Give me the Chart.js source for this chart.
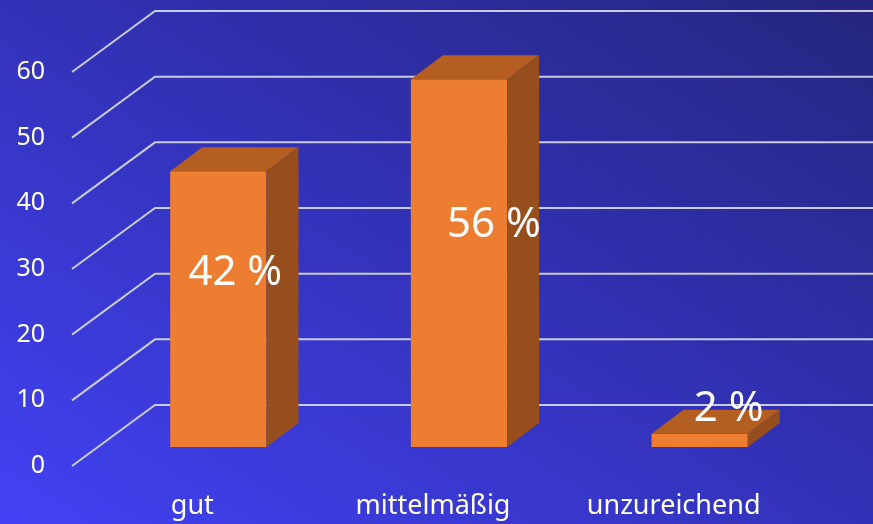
<!DOCTYPE html>
<html>
<head>
<meta charset="utf-8">
<script src="https://cdn.jsdelivr.net/npm/chart.js"></script>
<style>
  html, body { margin: 0; padding: 0; }
  body { width: 873px; height: 524px; overflow: hidden;
         background: linear-gradient(to top right, #4242f5 0%, #3232b8 50%, #25257e 100%); }
</style>
</head>
<body>
<canvas id="chart" width="873" height="524"></canvas>
<script>
// data
const categories = ['gut', 'mittelmäßig', 'unzureichend'];
const percentValues = [42, 56, 2];
const valueLabels = ['42 %', '56 %', '2 %'];
const yTicks = [0, 10, 20, 30, 40, 50, 60];

// horizontal nudge of each value label from the bar centre (px)
const labelDx = [17, 35, 29];

const FONT = "'Noto Sans', 'Open Sans', sans-serif";
const FLOOR = { dx: 83, dy: -61 };     // front edge -> back wall
const BAR_SHIFT = { dx: 26, dy: -19 }; // bars stand a bit into the floor
const BAR_DEPTH = { dx: 32, dy: -24 };

const threeD = {
  id: 'threeD',
  beforeDatasetsDraw(chart) {
    const { ctx, chartArea, scales: { y } } = chart;
    ctx.save();
    ctx.strokeStyle = 'rgba(210,210,228,0.95)';
    ctx.lineWidth = 2;
    yTicks.forEach(v => {
      const py = y.getPixelForValue(v);
      ctx.beginPath();
      ctx.moveTo(chartArea.left, py);
      ctx.lineTo(chartArea.left + FLOOR.dx, py + FLOOR.dy);
      ctx.lineTo(chart.width, py + FLOOR.dy);
      ctx.stroke();
    });
    ctx.restore();
    // front faces get drawn by chart.js, shifted into the floor
    ctx.save();
    ctx.translate(BAR_SHIFT.dx, BAR_SHIFT.dy);
  },
  afterDatasetsDraw(chart) {
    const ctx = chart.ctx;
    const bars = chart.getDatasetMeta(0).data;
    bars.forEach(bar => {
      const { x, y, base, width } = bar.getProps(['x', 'y', 'base', 'width'], true);
      const l = x - width / 2, r = x + width / 2;
      // top
      ctx.fillStyle = '#b45e22';
      ctx.beginPath();
      ctx.moveTo(l, y);
      ctx.lineTo(r, y);
      ctx.lineTo(r + BAR_DEPTH.dx, y + BAR_DEPTH.dy);
      ctx.lineTo(l + BAR_DEPTH.dx, y + BAR_DEPTH.dy);
      ctx.closePath();
      ctx.fill();
      // side
      ctx.fillStyle = '#974e1d';
      ctx.beginPath();
      ctx.moveTo(r, y);
      ctx.lineTo(r + BAR_DEPTH.dx, y + BAR_DEPTH.dy);
      ctx.lineTo(r + BAR_DEPTH.dx, base + BAR_DEPTH.dy);
      ctx.lineTo(r, base);
      ctx.closePath();
      ctx.fill();
    });
    ctx.restore();

    // value labels
    ctx.save();
    ctx.fillStyle = '#ffffff';
    ctx.font = '42px ' + FONT;
    ctx.textAlign = 'center';
    ctx.textBaseline = 'middle';
    bars.forEach((bar, i) => {
      const { x, y, base } = bar.getProps(['x', 'y', 'base'], true);
      const b = base + BAR_SHIFT.dy;
      const h = base - y;
      ctx.fillText(valueLabels[i], x + BAR_SHIFT.dx + labelDx[i], b - h * 0.52 - 31);
    });
    ctx.restore();
  }
};

new Chart(document.getElementById('chart'), {
  type: 'bar',
  data: {
    labels: categories,
    datasets: [{
      data: percentValues,
      backgroundColor: '#ed7d31',
      borderWidth: 0,
      barPercentage: 0.5,
      categoryPercentage: 0.8
    }]
  },
  options: {
    responsive: false,
    animation: false,
    devicePixelRatio: 1,
    layout: { padding: { top: 72, right: 79, left: 0, bottom: 0 } },
    plugins: { legend: { display: false }, tooltip: { enabled: false } },
    scales: {
      x: {
        grid: { display: false, drawTicks: false },
        border: { display: false },
        ticks: { color: '#ffffff', font: { family: FONT, size: 27 }, padding: 24 },
        afterFit: s => { s.height = 58; }
      },
      y: {
        min: 0, max: 60,
        ticks: { stepSize: 10, color: '#ffffff', font: { family: FONT, size: 25 }, padding: 27 },
        grid: { display: false, drawTicks: false },
        border: { display: false },
        afterFit: s => { s.width = 72; }
      }
    }
  },
  plugins: [threeD]
});
</script>
</body>
</html>
